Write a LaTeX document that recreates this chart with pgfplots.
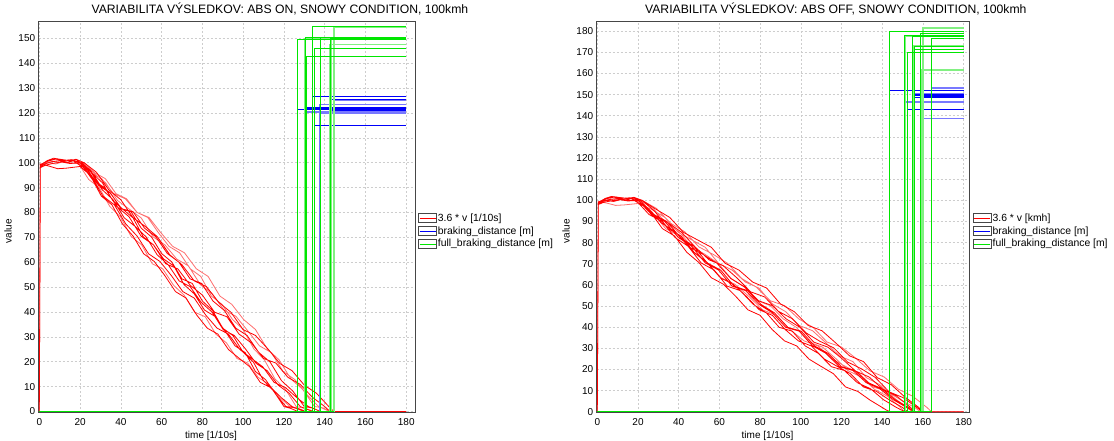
\documentclass[border=0pt]{standalone}
\usepackage{fontspec}
\setmainfont{Liberation Sans}
\usepackage{pgfplots}
\pgfplotsset{compat=1.18}
\definecolor{gr}{RGB}{0,230,0}
\definecolor{grl}{RGB}{130,240,130}
\definecolor{rdl}{RGB}{255,110,110}
\definecolor{bl}{RGB}{0,0,250}
\definecolor{bll}{RGB}{120,120,255}
\definecolor{gridc}{RGB}{205,205,205}
\definecolor{frame}{RGB}{70,70,70}
\pgfplotsset{
  panel/.style={
    scale only axis, height=391pt,
    xmin=-0.3,
    xtick={0,20,...,180},
    grid=major,
    major grid style={draw=gridc, dash pattern=on 2pt off 2pt, line width=0.6pt},
    major tick length=0pt,
    axis line style={draw=frame, line width=0.9pt},
    tick label style={font=\fontsize{10}{12}\selectfont},
    /pgf/number format/assume math mode=true,
    xticklabel style={yshift=-2.5pt},
    label style={font=\fontsize{10}{12}\selectfont},
    xlabel={time [1/10s]},
    ylabel={value},
    xlabel style={at={(ticklabel cs:0.458)}, inner sep=0pt, yshift=-2pt},
    ylabel style={at={(ticklabel cs:0.464)}},
    title style={font=\fontsize{12.2}{14}\selectfont, at={(0.641,1)}, anchor=base, yshift=2.4pt, inner sep=0pt},
    legend style={at={(1,0.512)}, anchor=north west, xshift=3pt, draw=none, fill=none, inner sep=0pt,
      font=\fontsize{10.4}{12}\selectfont, row sep=1.8pt, cells={anchor=west},
      nodes={inner sep=1pt}},
    legend image code/.code={
      \draw[draw=frame, line width=0.7pt, fill=white] (0pt,-4.5pt) rectangle (18pt,4.5pt);
      \draw[#1, line width=1pt] (1pt,-0.5pt) -- (17pt,-0.5pt);
    },
    unbounded coords=jump,
  },
  rr/.style={draw=red, line width=0.8pt, forget plot},
  rl/.style={draw=rdl, line width=0.8pt, forget plot},
  bb/.style={draw=bl, line width=0.9pt, forget plot},
  bx/.style={draw=bll, line width=1.5pt, forget plot},
  gg/.style={draw=gr, line width=0.9pt, forget plot},
  gl/.style={draw=grl, line width=1.6pt, forget plot},
}
\begin{document}
\begin{tikzpicture}
\useasboundingbox (0,0) rectangle (1114pt,441pt);
% ---------------- LEFT PANEL ----------------
\begin{axis}[panel, at={(38.7pt,28.3pt)}, anchor=south west, width=376.3pt,
  xmax=184.3, ymin=-0.48, ymax=156.7, ytick={0,10,...,150},
  title={VARIABILITA VÝSLEDKOV: ABS ON, SNOWY CONDITION, 100kmh}]
\addlegendimage{draw=red}\addlegendentry{3.6 * v [1/10s]}
\addlegendimage{draw=bl}\addlegendentry{braking\_distance [m]}
\addlegendimage{draw=gr}\addlegendentry{full\_braking\_distance [m]}
% velocity, lighter runs
\addplot[rl] coordinates {(0,0)(0.5,99.2)(4,100.6)(8,101.5)(12,100.9)(16,101.2)(19,100)(24.2,93.3)(29.4,90.0)(34.6,82.4)(39.8,78.3)(45,70.4)(50.2,67.0)(55.4,59.4)(60.6,57.3)(65.8,50.8)(71,46.8)(76.2,39.9)(81.4,38.1)(86.6,31.1)(91.8,27.6)(97,21.3)(102.2,19.5)(107.4,13.7)(112.6,10.9)(117.8,5.7)(123,2.0)(126.5,1.0)(130,0)(180,0)
(nan,nan)(0,0)(0.5,98.8)(3,100.2)(8,99.5)(12,100.5)(16,99.9)(22,100)(27.2,96.0)(32.4,93.6)(37.6,87.6)(42.8,85.5)(48,80.0)(53.2,78.0)(58.4,71.9)(63.6,66.4)(68.8,63.8)(74,57.4)(79.2,54.3)(84.4,46.4)(89.6,43.1)(94.8,37.0)(100,33.0)(105.2,25.2)(110.4,20.8)(115.6,13.1)(120.8,8.9)(126,2.0)(130,1.3)(135,0)(180,0)
(nan,nan)(0,0)(0.5,98.5)(3,99.6)(6,100.4)(10,100.8)(14,100.2)(17,100.9)(21,100)(26.8,95.8)(32.6,91.9)(38.4,84.8)(44.2,81.3)(50,77.8)(55.8,70.2)(61.6,67.0)(67.4,61.3)(73.2,58.5)(79,51.0)(84.8,47.3)(90.6,40.8)(96.4,38.3)(102.2,32.5)(108,26.4)(113.8,23.7)(119.6,16.1)(125.4,12.8)(131.2,6.9)(137,2.0)(140,0.9)(142.4,0)(180,0)
(nan,nan)(0,0)(0.5,98.8)(3,100.2)(8,99.5)(12,100.5)(16,99.9)(19,100)(24.8,96.0)(30.6,93.6)(36.4,87.6)(42.2,85.5)(48,80.0)(53.8,78.0)(59.6,71.9)(65.4,66.4)(71.2,63.8)(77,57.4)(82.8,54.3)(88.6,46.4)(94.4,43.1)(100.2,37.0)(106,33.0)(111.8,25.2)(117.6,20.8)(123.4,13.1)(129.2,8.9)(135,2.0)(139,1.5)(142.8,0)(180,0)};
% velocity, full red runs
\addplot[rr] coordinates {(0,0)(0.5,98.5)(3,99.6)(6,100.4)(10,100.8)(14,100.2)(17,100.9)(20,100)(25,97.1)(30,90.8)(35,87.8)(40,81.5)(45,80.3)(50,73.7)(55,70.2)(60,63.5)(65,60.1)(70,53.3)(75,51.5)(80,44.4)(85,40.6)(90,33.5)(95,30.5)(100,23.8)(105,19.9)(110,12.4)(115,8.2)(120,2.0)(123.5,1.2)(126.8,0)(180,0)
(nan,nan)(0,0)(0.5,98.0)(3,99.0)(7,99.8)(11,100.3)(15,99.7)(21,100)(26,95.8)(31,91.9)(36,84.8)(41,81.3)(46,77.8)(51,70.2)(56,67.0)(61,61.3)(66,58.5)(71,51.0)(76,47.3)(81,40.8)(86,38.3)(91,32.5)(96,26.4)(101,23.7)(106,16.1)(111,12.8)(116,6.9)(121,2.0)(126,1.5)(131,0)(180,0)
(nan,nan)(0,0)(0.5,99.0)(4,100.9)(7,101.8)(11,101.3)(15,100.8)(18,101.4)(20,100)(25.4,96.2)(30.8,89.2)(36.2,85.1)(41.6,77.9)(47,74.4)(52.4,70.2)(57.8,63.0)(63.2,59.0)(68.6,52.5)(74,50.2)(79.4,43.9)(84.8,39.9)(90.2,32.9)(95.6,30.6)(101,25.3)(106.4,19.3)(111.8,16.4)(117.2,10.6)(122.6,7.3)(128,2.0)(131,1.0)(134.2,0)(180,0)
(nan,nan)(0,0)(0.5,99.5)(5,98.6)(9,97.6)(13,97.8)(17,98.2)(20,98.5)(25.6,94.6)(31.2,86.6)(36.8,83.1)(42.4,75.4)(48,70.5)(53.6,63.4)(59.2,60.3)(64.8,54.6)(70.4,48.2)(76,45.6)(81.6,38.8)(87.2,33.5)(92.8,31.1)(98.4,24.9)(104,21.4)(109.6,18.0)(115.2,11.7)(120.8,9.6)(126.4,5.5)(132,2.0)(135,1.1)(137.8,0)(180,0)
(nan,nan)(0,0)(0.5,99.2)(4,100.6)(8,101.5)(12,100.9)(16,101.2)(18,100)(23.6,97.1)(29.2,90.8)(34.8,87.8)(40.4,81.5)(46,80.3)(51.6,73.7)(57.2,70.2)(62.8,63.5)(68.4,60.1)(74,53.3)(79.6,51.5)(85.2,44.4)(90.8,40.6)(96.4,33.5)(102,30.5)(107.6,23.8)(113.2,19.9)(118.8,12.4)(124.4,8.2)(130,2.0)(134,1.4)(138,0)(180,0)
(nan,nan)(0,0)(0.5,98.0)(3,99.0)(7,99.8)(11,100.3)(15,99.7)(20,100)(26,93.3)(32,90.0)(38,82.4)(44,78.3)(50,70.4)(56,67.0)(62,59.4)(68,57.3)(74,50.8)(80,46.8)(86,39.9)(92,38.1)(98,31.1)(104,27.6)(110,21.3)(116,19.5)(122,13.7)(128,10.9)(134,5.7)(140,2.0)(141.5,0.8)(143.2,0)(180,0)
(nan,nan)(0,0)(0.5,99.0)(4,100.9)(7,101.8)(11,101.3)(15,100.8)(18,101.4)(22,100)(28,96.2)(34,89.2)(40,85.1)(46,77.9)(52,74.4)(58,70.2)(64,63.0)(70,59.0)(76,52.5)(82,50.2)(88,43.9)(94,39.9)(100,32.9)(106,30.6)(112,25.3)(118,19.3)(124,16.4)(130,10.6)(136,7.3)(142,2.0)(144.5,0)(180,0)
(nan,nan)(0,0)(0.5,98.5)(3,99.6)(6,100.4)(10,100.8)(14,100.2)(17,100.9)(20,100)(25.2,94.6)(30.4,86.6)(35.6,83.1)(40.8,75.4)(46,70.5)(51.2,63.4)(56.4,60.3)(61.6,54.6)(66.8,48.2)(72,45.6)(77.2,38.8)(82.4,33.5)(87.6,31.1)(92.8,24.9)(98,21.4)(103.2,18.0)(108.4,11.7)(113.6,9.6)(118.8,5.5)(124,2.0)(127,1.0)(130.5,0)(180,0)};
% braking distance
\addplot[bx] coordinates {(131.0,0)(131.0,120.4)(180,120.4)(nan,nan)(137.8,0)(137.8,123.5)(180,123.5)(nan,nan)(138.0,0)(138.0,119.9)(180,119.9)(nan,nan)(144.5,0)(144.5,125.2)(180,125.2)};
\addplot[bb] coordinates {(126.8,0)(126.8,121.6)(180,121.6)(nan,nan)(130.0,0)(130.0,122.4)(180,122.4)(nan,nan)(134.2,0)(134.2,126.5)(180,126.5)(nan,nan)(135.0,0)(135.0,115.0)(180,115.0)(nan,nan)(142.4,0)(142.4,125.3)(180,125.3)(nan,nan)(143.2,0)(143.2,115.0)(180,115.0)(nan,nan)(142.8,0)(142.8,121.0)(180,121.0)(nan,nan)(130.5,0)(130.5,122.0)(180,122.0)};
% full braking distance
\addplot[gl] coordinates {(130.0,0)(130.0,150.0)(180,150.0)(nan,nan)(142.4,0)(142.4,147.6)(180,147.6)(nan,nan)(143.2,0)(143.2,150.0)(180,150.0)(nan,nan)(144.5,0)(144.5,154.6)(180,154.6)};
\addplot[gg] coordinates {(0,0)(126.8,0)(126.8,149.6)(180,149.6)(nan,nan)(131.0,0)(131.0,142.8)(180,142.8)(nan,nan)(134.2,0)(134.2,154.6)(180,154.6)(nan,nan)(135.0,0)(135.0,146.1)(180,146.1)(nan,nan)(137.8,0)(137.8,150.2)(180,150.2)(nan,nan)(138.0,0)(138.0,142.6)(180,142.6)(nan,nan)(142.8,0)(142.8,149.8)(180,149.8)(nan,nan)(130.5,0)(130.5,150.3)(180,150.3)(nan,nan)(0,0)(144.5,0)};
\end{axis}
% ---------------- RIGHT PANEL ----------------
\begin{axis}[panel, at={(596.7pt,28.3pt)}, anchor=south west, width=373pt,
  xmax=183, ymin=-0.47, ymax=184.5, ytick={0,10,...,180},
  title={VARIABILITA VÝSLEDKOV: ABS OFF, SNOWY CONDITION, 100kmh}]
\addlegendimage{draw=red}\addlegendentry{3.6 * v [kmh]}
\addlegendimage{draw=bl}\addlegendentry{braking\_distance [m]}
\addlegendimage{draw=gr}\addlegendentry{full\_braking\_distance [m]}
% velocity, lighter runs
\addplot[rl] coordinates {(0,0)(0.5,98.5)(3,99.6)(6,100.4)(10,100.8)(14,100.2)(17,100.9)(21,100)(27.4,96.2)(33.8,89.2)(40.2,85.1)(46.6,77.9)(53,74.4)(59.4,70.2)(65.8,63.0)(72.2,59.0)(78.6,52.5)(85,50.2)(91.4,43.9)(97.8,39.9)(104.2,32.9)(110.6,30.6)(117,25.3)(123.4,19.3)(129.8,16.4)(136.2,10.6)(142.6,7.3)(149,2.0)(150.9,0)(180,0)
(nan,nan)(0,0)(0.5,99.5)(5,98.6)(9,97.6)(13,97.8)(17,98.2)(20,98.5)(26.6,95.8)(33.2,91.9)(39.8,84.8)(46.4,81.3)(53,77.8)(59.6,70.2)(66.2,67.0)(72.8,61.3)(79.4,58.5)(86,51.0)(92.6,47.3)(99.2,40.8)(105.8,38.3)(112.4,32.5)(119,26.4)(125.6,23.7)(132.2,16.1)(138.8,12.8)(145.4,6.9)(152,2.0)(153.5,1.0)(155,0)(180,0)
(nan,nan)(0,0)(0.5,99.0)(4,100.9)(7,101.8)(11,101.3)(15,100.8)(18,101.4)(20,100)(26.8,94.6)(33.6,86.6)(40.4,83.1)(47.2,75.4)(54,70.5)(60.8,63.4)(67.6,60.3)(74.4,54.6)(81.2,48.2)(88,45.6)(94.8,38.8)(101.6,33.5)(108.4,31.1)(115.2,24.9)(122,21.4)(128.8,18.0)(135.6,11.7)(142.4,9.6)(149.2,5.5)(156,2.0)(157.5,0.9)(159,0)(180,0)
(nan,nan)(0,0)(0.5,98.8)(3,100.2)(8,99.5)(12,100.5)(16,99.9)(22,100)(29,96.2)(36,89.2)(43,85.1)(50,77.9)(57,74.4)(64,70.2)(71,63.0)(78,59.0)(85,52.5)(92,50.2)(99,43.9)(106,39.9)(113,32.9)(120,30.6)(127,25.3)(134,19.3)(141,16.4)(148,10.6)(155,7.3)(162,2.0)(164.2,0)(180,0)};
% velocity, full red runs
\addplot[rr] coordinates {(0,0)(0.5,99.2)(4,100.6)(8,101.5)(12,100.9)(16,101.2)(20,100)(26,94.6)(32,86.6)(38,83.1)(44,75.4)(50,70.5)(56,63.4)(62,60.3)(68,54.6)(74,48.2)(80,45.6)(86,38.8)(92,33.5)(98,31.1)(104,24.9)(110,21.4)(116,18.0)(122,11.7)(128,9.6)(134,5.5)(140,2.0)(142,0.8)(143.8,0)(180,0)
(nan,nan)(0,0)(0.5,98.0)(3,99.0)(7,99.8)(11,100.3)(15,99.7)(19,100)(25.4,93.3)(31.8,90.0)(38.2,82.4)(44.6,78.3)(51,70.4)(57.4,67.0)(63.8,59.4)(70.2,57.3)(76.6,50.8)(83,46.8)(89.4,39.9)(95.8,38.1)(102.2,31.1)(108.6,27.6)(115,21.3)(121.4,19.5)(127.8,13.7)(134.2,10.9)(140.6,5.7)(147,2.0)(149,1.0)(151.2,0)(180,0)
(nan,nan)(0,0)(0.5,99.0)(4,100.9)(7,101.8)(11,101.3)(15,100.8)(18,101.4)(22,100)(28.4,94.6)(34.8,86.6)(41.2,83.1)(47.6,75.4)(54,70.5)(60.4,63.4)(66.8,60.3)(73.2,54.6)(79.6,48.2)(86,45.6)(92.4,38.8)(98.8,33.5)(105.2,31.1)(111.6,24.9)(118,21.4)(124.4,18.0)(130.8,11.7)(137.2,9.6)(143.6,5.5)(150,2.0)(152.5,0)(180,0)
(nan,nan)(0,0)(0.5,98.8)(3,100.2)(8,99.5)(12,100.5)(16,99.9)(21,100)(27.6,93.3)(34.2,90.0)(40.8,82.4)(47.4,78.3)(54,70.4)(60.6,67.0)(67.2,59.4)(73.8,57.3)(80.4,50.8)(87,46.8)(93.6,39.9)(100.2,38.1)(106.8,31.1)(113.4,27.6)(120,21.3)(126.6,19.5)(133.2,13.7)(139.8,10.9)(146.4,5.7)(153,2.0)(155.3,0)(180,0)
(nan,nan)(0,0)(0.5,99.2)(4,100.6)(8,101.5)(12,100.9)(16,101.2)(18,100)(24.8,96.2)(31.6,89.2)(38.4,85.1)(45.2,77.9)(52,74.4)(58.8,70.2)(65.6,63.0)(72.4,59.0)(79.2,52.5)(86,50.2)(92.8,43.9)(99.6,39.9)(106.4,32.9)(113.2,30.6)(120,25.3)(126.8,19.3)(133.6,16.4)(140.4,10.6)(147.2,7.3)(154,2.0)(155.8,0)(180,0)
(nan,nan)(0,0)(0.5,98.5)(3,99.6)(6,100.4)(10,100.8)(14,100.2)(17,100.9)(22,100)(28.8,95.8)(35.6,91.9)(42.4,84.8)(49.2,81.3)(56,77.8)(62.8,70.2)(69.6,67.0)(76.4,61.3)(83.2,58.5)(90,51.0)(96.8,47.3)(103.6,40.8)(110.4,38.3)(117.2,32.5)(124,26.4)(130.8,23.7)(137.6,16.1)(144.4,12.8)(151.2,6.9)(158,2.0)(159.6,0)(180,0)
(nan,nan)(0,0)(0.5,98.0)(3,99.0)(7,99.8)(11,100.3)(15,99.7)(21,100)(27.8,93.3)(34.6,89.5)(41.4,84.9)(48.2,77.8)(55,71.8)(61.8,69.1)(68.6,63.3)(75.4,56.7)(82.2,54.3)(89,47.5)(95.8,44.0)(102.6,37.3)(109.4,33.3)(116.2,30.2)(123,23.5)(129.8,20.3)(136.6,16.2)(143.4,9.4)(150.2,6.7)(157,2.0)(158.5,0.9)(160.1,0)(180,0)
(nan,nan)(0,0)(0.5,99.2)(4,100.6)(8,101.5)(12,100.9)(16,101.2)(20,100)(26.6,93.3)(33.2,90.0)(39.8,82.4)(46.4,78.3)(53,70.4)(59.6,67.0)(66.2,59.4)(72.8,57.3)(79.4,50.8)(86,46.8)(92.6,39.9)(99.2,38.1)(105.8,31.1)(112.4,27.6)(119,21.3)(125.6,19.5)(132.2,13.7)(138.8,10.9)(145.4,5.7)(152,2.0)(154,0.9)(156,0)(180,0)};
% braking distance
\addplot[bx] coordinates {(150.9,0)(150.9,146.7)(180,146.7)(nan,nan)(151.2,0)(151.2,146.5)(180,146.5)(nan,nan)(155.8,0)(155.8,150.3)(180,150.3)(nan,nan)(159.6,0)(159.6,138.7)(180,138.7)(nan,nan)(164.2,0)(164.2,153.2)(180,153.2)};
\addplot[bb] coordinates {(143.8,0)(143.8,151.9)(180,151.9)(nan,nan)(152.5,0)(152.5,143.1)(180,143.1)(nan,nan)(155.0,0)(155.0,150.0)(180,150.0)(nan,nan)(155.3,0)(155.3,149.5)(180,149.5)(nan,nan)(159.0,0)(159.0,149.1)(180,149.1)(nan,nan)(160.1,0)(160.1,152.0)(180,152.0)(nan,nan)(156.0,0)(156.0,148.7)(180,148.7)};
% full braking distance
\addplot[gl] coordinates {(151.2,0)(151.2,177.7)(180,177.7)(nan,nan)(155.3,0)(155.3,173.2)(180,173.2)(nan,nan)(159.6,0)(159.6,161.7)(180,161.7)(nan,nan)(160.1,0)(160.1,181.6)(180,181.6)};
\addplot[gg] coordinates {(0,0)(143.8,0)(143.8,179.9)(180,179.9)(nan,nan)(150.9,0)(150.9,178.0)(180,178.0)(nan,nan)(152.5,0)(152.5,170.1)(180,170.1)(nan,nan)(155.0,0)(155.0,177.5)(180,177.5)(nan,nan)(155.8,0)(155.8,171.5)(180,171.5)(nan,nan)(159.0,0)(159.0,179.1)(180,179.1)(nan,nan)(164.2,0)(164.2,176.5)(180,176.5)(nan,nan)(156.0,0)(156.0,172.8)(180,172.8)(nan,nan)(0,0)(164.2,0)};
\end{axis}
\end{tikzpicture}
\end{document}
